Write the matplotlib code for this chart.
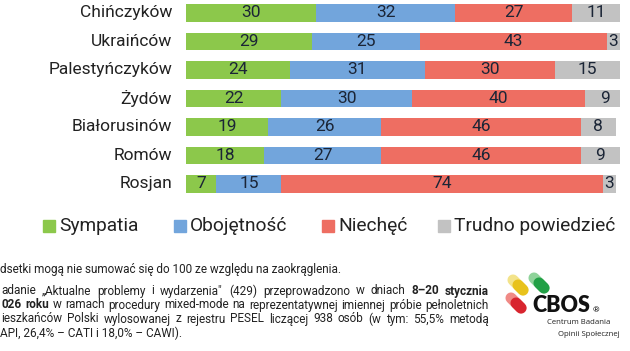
import matplotlib
matplotlib.use("Agg")
import matplotlib.pyplot as plt
import numpy as np
from matplotlib.lines import Line2D
from matplotlib.patches import Rectangle

plt.rcParams['font.family'] = ['Roboto', 'DejaVu Sans']

groups = ["Chińczyków", "Ukraińców", "Palestyńczyków", "Żydów",
          "Białorusinów", "Romów", "Rosjan"]
sympatia = [30, 29, 24, 22, 19, 18, 7]
obojetnosc = [32, 25, 31, 30, 26, 27, 15]
niechec = [27, 43, 30, 40, 46, 46, 74]
trudno = [11, 3, 15, 9, 8, 9, 3]
series = [("Sympatia", sympatia, "#8cc84b"),
          ("Obojętność", obojetnosc, "#72a5dc"),
          ("Niechęć", niechec, "#ee6e62"),
          ("Trudno powiedzieć", trudno, "#c2c2c2")]

W, H = 630, 351
fig = plt.figure(figsize=(W / 100, H / 100), dpi=100)
ax = fig.add_axes([186 / W, 1 - 198.25 / H, 434 / W, 198.25 / H])

y = np.arange(len(groups))
left = np.zeros(len(groups))
for name, vals, col in series:
    vals = np.array(vals)
    ax.barh(y, vals, left=left, height=0.6, color=col, label=name)
    for yi, l, v in zip(y, left, vals):
        ax.text(l + v / 2, yi, str(v), ha="center", va="center",
                fontsize=12.5, color="#1b2536")
    left += vals

ax.set_xlim(0, 100)
ax.set_ylim(6.5, -0.456)
ax.axis("off")
for yi, g in zip(y, groups):
    ax.text(-3.2, yi, g, ha="right", va="center", fontsize=12.5, color="#222222")

# legend (placed by hand to keep the spacing of the original)
leg_x = [43, 174, 322, 438]
leg_y = 226
for (name, _, col), lx in zip(series, leg_x):
    fig.add_artist(Rectangle((lx / W, 1 - (leg_y + 6) / H), 12 / W, 12 / H,
                             transform=fig.transFigure, color=col))
    fig.text((lx + 16) / W, 1 - leg_y / H, name, fontsize=13.8, va="center",
             color="#222222")

# footnotes
FS = 8.5
fig.text(0, 1 - 270 / H, "dsetki mogą nie sumować się do 100 ze względu na zaokrąglenia.",
         fontsize=FS, va="center", color="#222222")

renderer = fig.canvas.get_renderer()


def justify(words, ypx, x0=1, x1=489):
    objs = []
    for w, b in words:
        t = fig.text(0, 1 - ypx / H, w, fontsize=FS, va="center", color="#222222",
                     fontweight="bold" if b else "normal")
        objs.append(t)
    widths = [t.get_window_extent(renderer).width for t in objs]
    gap = (x1 - x0 - sum(widths)) / (len(objs) - 1)
    x = x0
    for t, wd in zip(objs, widths):
        t.set_x(x / W)
        x += wd + gap


line2 = [(w, False) for w in "adanie „Aktualne problemy i wydarzenia\" (429) przeprowadzono w dniach".split()]
line2 += [("8–20", True), ("stycznia", True)]
line3 = [("026", True), ("roku", True)]
line3 += [(w, False) for w in "w ramach procedury mixed-mode na reprezentatywnej imiennej próbie pełnoletnich".split()]
line4 = [(w, False) for w in "ieszkańców Polski wylosowanej z rejestru PESEL liczącej 938 osób (w tym: 55,5% metodą".split()]
justify(line2, 291)
justify(line3, 305)
justify(line4, 319)
fig.text(0, 1 - 333 / H, "API, 26,4% – CATI i 18,0% – CAWI).", fontsize=FS,
         va="center", color="#222222")

# CBOS logo
def pill(cx, cy, col, light):
    d = 5
    fig.add_artist(Line2D([(cx - d) / W, (cx + d) / W], [1 - (cy - d) / H, 1 - (cy + d) / H],
                          transform=fig.transFigure, color=light, lw=8,
                          solid_capstyle="round"))
    fig.add_artist(Line2D([cx / W, (cx + d) / W], [1 - cy / H, 1 - (cy + d) / H],
                          transform=fig.transFigure, color=col, lw=8,
                          solid_capstyle="round"))


pill(518, 285, "#e8c21c", "#f3e38a")
pill(539, 283, "#22a046", "#8fd39a")
pill(516, 303, "#d8252f", "#f08a86")
fig.text(532 / W, 1 - 306 / H, "CBOS", fontsize=15.5, fontweight="heavy",
         family="Lato", va="center", color="#111111")
fig.text(593 / W, 1 - 310 / H, "®", fontsize=6, va="center", color="#111111")
fig.text(547 / W, 1 - 323 / H, "Centrum Badania", fontsize=5.6, family="Open Sans",
         va="center", color="#222222")
fig.text(558 / W, 1 - 334 / H, "Opinii Społecznej", fontsize=5.6, family="Open Sans",
         va="center", color="#222222")

fig.savefig("out.png", dpi=100)
